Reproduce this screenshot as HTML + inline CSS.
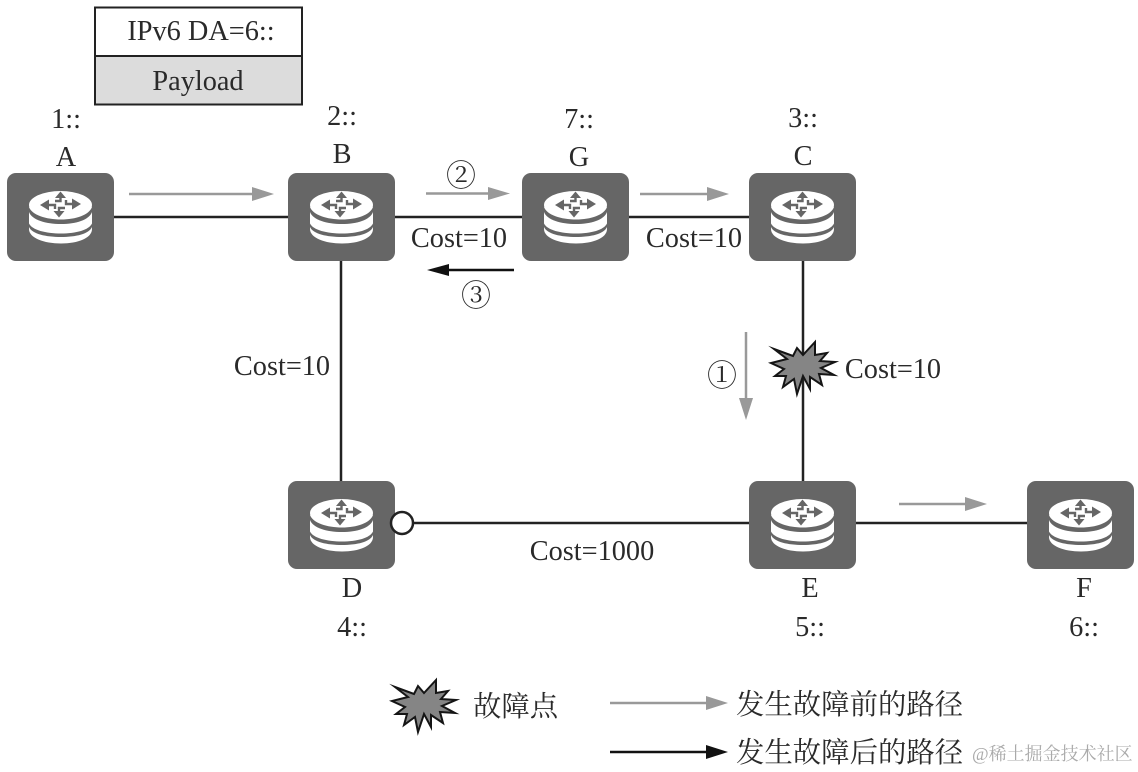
<!DOCTYPE html>
<html>
<head>
<meta charset="utf-8">
<style>
html,body{margin:0;padding:0;background:#fff;}
svg{display:block;}
text{font-family:"Liberation Serif","Noto Serif CJK SC",serif;fill:#2a2a2a;font-size:28.300px;}
.c{text-anchor:middle;}
.cjk{font-size:28.400px;}
.n{font-size:30px;}
</style>
</head>
<body>
<svg width="1138" height="772" viewBox="0 0 1138 772" xmlns="http://www.w3.org/2000/svg">
<defs>
<g id="router">
  <rect x="0" y="0" width="107" height="88" rx="9" fill="#666"/>
  <g transform="translate(1 1)">
  <path d="M21 33 V55 C21 64 36 69.500 53 69.500 C70 69.500 84 64 84 55 V33 Z" fill="#fff"/>
  <path d="M21 49.500 C24 56 38 59.500 53 59.500 C68 59.500 81 56 84 49.500 V53 C81 60 68 63 53 63 C38 63 24 60 21 53 Z" fill="#666"/>
  <path d="M21 33 C24 41 38 45.500 53 45.500 C68 45.500 81 41 84 33 V38 C81 46 68 50 53 50 C38 50 24 46 21 38 Z" fill="#666"/>
  <ellipse cx="52.500" cy="31" rx="31.500" ry="14" fill="#fff"/>
  <g fill="#666">
    <polygon points="32,31 41,25.500 41,36.500"/>
    <polygon points="73,30 64,24.500 64,35.500"/>
    <polygon points="52.500,17.500 58,24 47,24"/>
    <polygon points="51,43.500 45.500,37 56.500,37"/>
  </g>
  <g fill="none" stroke="#666" stroke-width="2.400">
    <path d="M40 31 H47 V35"/>
    <path d="M65 30 H58 V26"/>
    <path d="M52.500 23 V27 H47"/>
    <path d="M51 38 V34 H57"/>
  </g>
  </g>
</g>
<polygon id="burst" points="-29,-18 -10,-11 -6,-19 0,-12 12,-25 12,-12 24,-14 17,-6 32,-5 18,1 31,8 16,7 19,18 7,10 7,22 0,9 -6,27 -9,12 -20,20 -17,9 -28,9 -19,2 -32,-4 -16,-8" fill="#858585" stroke="#151515" stroke-width="2" stroke-linejoin="miter" stroke-miterlimit="8"/>
</defs>

<!-- packet -->
<rect x="95" y="7.500" width="207" height="49" fill="#fff"/>
<rect x="95" y="56" width="207" height="48" fill="#dcdcdc"/>
<rect x="95" y="7.500" width="207" height="97" fill="none" stroke="#222" stroke-width="2"/>
<line x1="95" y1="56" x2="302" y2="56" stroke="#222" stroke-width="2"/>
<text x="201" y="40" class="c">IPv6 DA=6::</text>
<text x="198" y="90" class="c">Payload</text>

<!-- links -->
<g stroke="#222" stroke-width="2.500" fill="none">
  <line x1="114" y1="217" x2="288" y2="217"/>
  <line x1="395" y1="217" x2="522" y2="217"/>
  <line x1="629" y1="217" x2="749" y2="217"/>
  <line x1="341" y1="261" x2="341" y2="481"/>
  <line x1="803" y1="261" x2="803" y2="481"/>
  <line x1="413" y1="523" x2="749" y2="523"/>
  <line x1="856" y1="523" x2="1027" y2="523"/>
</g>

<!-- routers -->
<use href="#router" x="7" y="173"/>
<use href="#router" x="288" y="173"/>
<use href="#router" x="522" y="173"/>
<use href="#router" x="749" y="173"/>
<use href="#router" x="288" y="481"/>
<use href="#router" x="749" y="481"/>
<use href="#router" x="1027" y="481"/>

<circle cx="402" cy="523" r="11" fill="#fff" stroke="#222" stroke-width="2.500"/>

<!-- grey arrows -->
<g stroke="#999" stroke-width="2.500" fill="#999">
  <line x1="129" y1="194" x2="255" y2="194"/><polygon stroke="none" points="252,187 274,194 252,201"/>
  <line x1="426" y1="193.500" x2="490" y2="193.500"/><polygon stroke="none" points="488,187 510,193.500 488,200"/>
  <line x1="640" y1="194" x2="710" y2="194"/><polygon stroke="none" points="707,187 729,194 707,201"/>
  <line x1="746" y1="332" x2="746" y2="402"/><polygon stroke="none" points="739,398 753,398 746,420"/>
  <line x1="899" y1="504" x2="968" y2="504"/><polygon stroke="none" points="965,497 987,504 965,511"/>
  <line x1="610" y1="703" x2="710" y2="703"/><polygon stroke="none" points="706,696 728,703 706,710"/>
</g>
<!-- black arrows -->
<g stroke="#111" stroke-width="2.500" fill="#111">
  <line x1="514" y1="270" x2="445" y2="270"/><polygon stroke="none" points="427,270 449,264 449,276"/>
  <line x1="610" y1="752" x2="710" y2="752"/><polygon stroke="none" points="706,745 728,752 706,759"/>
</g>

<!-- bursts -->
<use href="#burst" x="803" y="367"/>
<use href="#burst" x="424" y="705"/>

<!-- labels -->
<text x="66" y="128" class="c">1::</text>
<text x="66" y="166" class="c">A</text>
<text x="342" y="125" class="c">2::</text>
<text x="342" y="163" class="c">B</text>
<text x="579" y="128" class="c">7::</text>
<text x="579" y="166" class="c">G</text>
<text x="803" y="127" class="c">3::</text>
<text x="803" y="165" class="c">C</text>
<text x="352" y="597" class="c">D</text>
<text x="352" y="636" class="c">4::</text>
<text x="810" y="597" class="c">E</text>
<text x="810" y="636" class="c">5::</text>
<text x="1084" y="597" class="c">F</text>
<text x="1084" y="636" class="c">6::</text>

<text x="459" y="247" class="c">Cost=10</text>
<text x="694" y="247" class="c">Cost=10</text>
<text x="282" y="375" class="c">Cost=10</text>
<text x="893" y="378" class="c">Cost=10</text>
<text x="592" y="560" class="c">Cost=1000</text>

<text x="461" y="186" class="c n">②</text>
<text x="476" y="306" class="c n">③</text>
<text x="722" y="386" class="c n">①</text>

<!-- legend -->
<text x="473" y="716" class="cjk">故障点</text>
<text x="736" y="714" class="cjk">发生故障前的路径</text>
<text x="736" y="762" class="cjk">发生故障后的路径</text>

<!-- watermark -->
<text x="972" y="760" style="font-size:18px;fill:#aaa;">@稀土掘金技术社区</text>
</svg>
</body>
</html>
